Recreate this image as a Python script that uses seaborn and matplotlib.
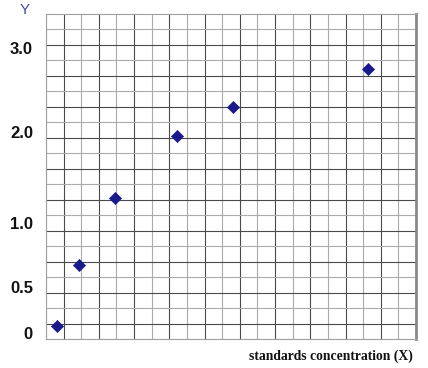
import matplotlib
matplotlib.use("Agg")
import matplotlib.pyplot as plt
import matplotlib.transforms as mtransforms
import seaborn as sns
import pandas as pd
import numpy as np

# Data in grid units (21 x 21 graph-paper cells)
x_vals = [0.64, 1.89, 3.92, 7.43, 10.64, 18.3]
y_vals = [0.88, 4.81, 9.14, 13.12, 15.0, 17.42]

y_tick_pos = [0.3, 3.3, 7.4, 13.3, 18.7]
y_tick_labels = ["0", "0.5", "1.0", "2.0", "3.0"]

n_cells = 21

df = pd.DataFrame({"x": x_vals, "y": y_vals})

sns.set_style("white")
fig = plt.figure(figsize=(4.28, 3.68), dpi=100)
ax = fig.add_axes([46 / 428, 1 - 339.3 / 368, 370 / 428, 325.3 / 368])

ax.set_xlim(0, n_cells)
ax.set_ylim(0, n_cells)

# graph-paper grid: dark lines at odd indices, light at even
major = np.arange(1, n_cells, 2)
minor = np.arange(0, n_cells + 1, 2)
ax.set_xticks(major)
ax.set_xticks(minor, minor=True)
ax.set_yticks(major)
ax.set_yticks(minor, minor=True)
ax.tick_params(which="both", length=0, labelleft=False, labelbottom=False)
ax.grid(which="major", color="#4a4a4a", linewidth=0.8)
ax.grid(which="minor", color="#ababab", linewidth=0.8)
ax.set_axisbelow(True)

sns.scatterplot(data=df, x="x", y="y", marker="D", s=38, color="#1a1a8c",
                edgecolor="#1a1a8c", linewidth=0.5, ax=ax, zorder=5)
ax.set_xlabel("")
ax.set_ylabel("")

for side in ["left", "bottom", "top"]:
    ax.spines[side].set_color("#a0a0a0")
    ax.spines[side].set_linewidth(0.8)
ax.spines["right"].set_color("#8a8a8a")
ax.spines["right"].set_linewidth(2.0)

trans = mtransforms.blended_transform_factory(fig.transFigure, ax.transData)
for pos, lab in zip(y_tick_pos, y_tick_labels):
    ax.text(33 / 428, pos, lab, transform=trans, ha="right", va="center",
            fontsize=12, fontweight="bold", family="Liberation Sans",
            color="#111111")

fig.text(25 / 428, 1 - 10 / 368, "Y", ha="center", va="center",
         fontsize=11, color="#4a4aaa", family="Liberation Sans")

fig.text(413 / 428, 1 - 356.5 / 368, "standards concentration (X)",
         ha="right", va="center", fontsize=9.8, fontweight="bold",
         family="Liberation Serif", color="#111111")

fig.savefig("out.png", dpi=100)
